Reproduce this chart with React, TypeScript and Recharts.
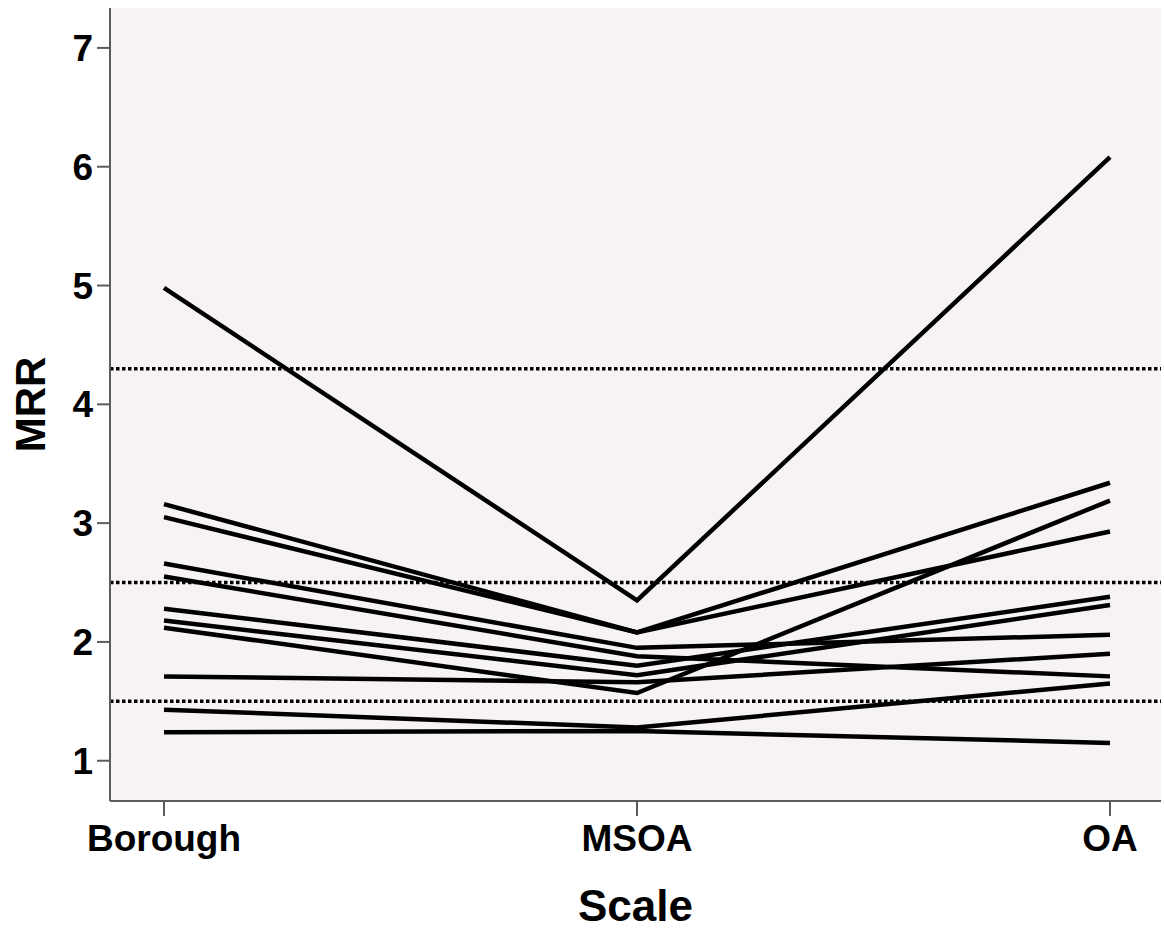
import React from "react";
import { LineChart, Line, XAxis, YAxis, ReferenceLine, CartesianGrid } from "recharts";

const categories = ["Borough", "MSOA", "OA"];

const l1 = [4.98, 2.35, 6.08];
const l2 = [3.16, 2.08, 3.34];
const l3 = [3.05, 2.08, 2.93];
const l4 = [2.66, 1.95, 2.06];
const l5 = [2.55, 1.88, 1.71];
const l6 = [2.28, 1.8, 2.38];
const l7 = [2.18, 1.72, 2.31];
const l8 = [2.12, 1.57, 3.19];
const l9 = [1.71, 1.66, 1.9];
const l10 = [1.43, 1.28, 1.65];
const l11 = [1.24, 1.25, 1.15];

const seriesList = [l1, l2, l3, l4, l5, l6, l7, l8, l9, l10, l11];
const yTicks = [1, 2, 3, 4, 5, 6, 7];
const refValues = [4.3, 2.5, 1.5];

const data = categories.map((c, i) => {
  const row: Record<string, number | string> = { scale: c };
  seriesList.forEach((s, k) => {
    row["s" + k] = s[i];
  });
  return row;
});

const FONT = "'Liberation Sans', Arial, sans-serif";
const FRAME = "#5c5c5c";

export default function App() {
  return (
    <div style={{ position: "absolute", left: 0, top: 0, background: "#fff" }}>
      <LineChart
        width={1164}
        height={929}
        data={data}
        margin={{ top: 8, right: 3, left: 0, bottom: 0 }}
      >
        <CartesianGrid fill="#F6F2F6" stroke="none" horizontal={false} vertical={false} />
        <XAxis
          dataKey="scale"
          type="category"
          padding={{ left: 54, right: 51 }}
          height={128}
          tickSize={15}
          tickMargin={9}
          axisLine={{ stroke: FRAME, strokeWidth: 2 }}
          tickLine={{ stroke: FRAME, strokeWidth: 2 }}
          tick={{ fill: "#000", fontSize: 37, fontWeight: 700, fontFamily: FONT }}
          label={{
            value: "Scale",
            position: "insideBottom",
            offset: 8,
            style: { fill: "#000", fontSize: 44, fontWeight: 700, fontFamily: FONT },
          }}
        />
        <XAxis
          xAxisId="top"
          dataKey="scale"
          orientation="top"
          height={0}
          tick={false}
          tickLine={false}
          axisLine={{ stroke: FRAME, strokeWidth: 2 }}
        />
        <YAxis
          type="number"
          domain={[0.661, 7.336]}
          ticks={yTicks}
          width={110}
          tickSize={13}
          tickMargin={4}
          axisLine={{ stroke: FRAME, strokeWidth: 2 }}
          tickLine={{ stroke: FRAME, strokeWidth: 2 }}
          tick={{ fill: "#000", fontSize: 37, fontWeight: 700, fontFamily: FONT }}
          label={{
            value: "MRR",
            angle: -90,
            position: "insideLeft",
            offset: 30,
            style: { textAnchor: "middle", fill: "#000", fontSize: 42, fontWeight: 700, fontFamily: FONT },
          }}
        />
        <YAxis
          yAxisId="right"
          orientation="right"
          type="number"
          domain={[0.661, 7.336]}
          width={0}
          tick={false}
          tickLine={false}
          axisLine={{ stroke: FRAME, strokeWidth: 2 }}
        />
        {refValues.map((v) => (
          <ReferenceLine
            key={v}
            y={v}
            stroke="#000"
            strokeWidth={3.5}
            strokeDasharray="3.5 2.5"
          />
        ))}
        {seriesList.map((_, k) => (
          <Line
            key={k}
            dataKey={"s" + k}
            stroke="#000"
            strokeWidth={4.5}
            dot={false}
            activeDot={false}
            isAnimationActive={false}
            type="linear"
          />
        ))}
      </LineChart>
    </div>
  );
}
